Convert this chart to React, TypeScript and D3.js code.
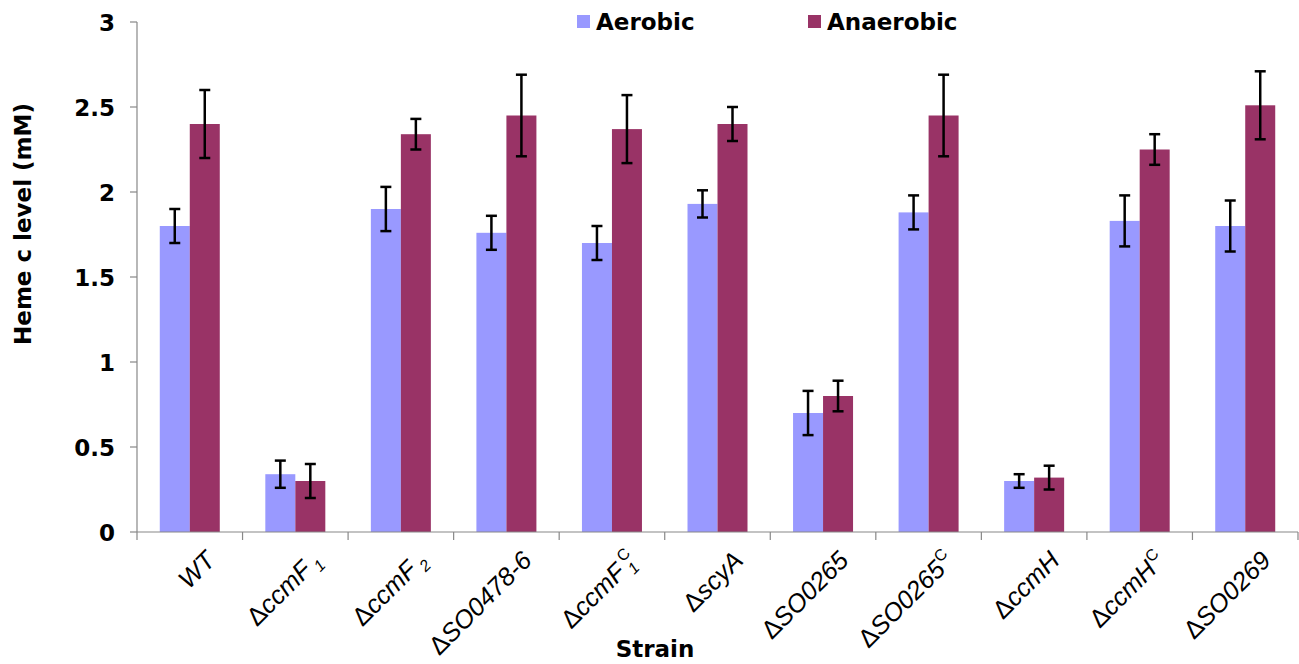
import * as d3 from 'd3';

// strain labels: base text, optional subscript / superscript
const STRAINS = [
  { id: 'WT', base: 'WT', delta: false, sub: '', sup: '' },
  { id: 'ccmF1', base: 'ccmF', delta: true, sub: '1', sup: '' },
  { id: 'ccmF2', base: 'ccmF', delta: true, sub: '2', sup: '' },
  { id: 'SO0478-6', base: 'SO0478-6', delta: true, sub: '', sup: '' },
  { id: 'ccmF1C', base: 'ccmF', delta: true, sub: '1', sup: 'C' },
  { id: 'scyA', base: 'scyA', delta: true, sub: '', sup: '' },
  { id: 'SO0265', base: 'SO0265', delta: true, sub: '', sup: '' },
  { id: 'SO0265C', base: 'SO0265', delta: true, sub: '', sup: 'C' },
  { id: 'ccmH', base: 'ccmH', delta: true, sub: '', sup: '' },
  { id: 'ccmHC', base: 'ccmH', delta: true, sub: '', sup: 'C' },
  { id: 'SO0269', base: 'SO0269', delta: true, sub: '', sup: '' },
];

const SERIES = ['Aerobic', 'Anaerobic'];
const COLORS = ['#9999ff', '#993366'];

const aerobic = [1.8, 0.34, 1.9, 1.76, 1.7, 1.93, 0.7, 1.88, 0.3, 1.83, 1.8];
const aerobicErr = [0.1, 0.08, 0.13, 0.1, 0.1, 0.08, 0.13, 0.1, 0.04, 0.15, 0.15];
const anaerobic = [2.4, 0.3, 2.34, 2.45, 2.37, 2.4, 0.8, 2.45, 0.32, 2.25, 2.51];
const anaerobicErr = [0.2, 0.1, 0.09, 0.24, 0.2, 0.1, 0.09, 0.24, 0.07, 0.09, 0.2];

const Y_TICKS = [0, 0.5, 1, 1.5, 2, 2.5, 3];

const W = 1299;
const H = 664;
const left = 137;
const right = 1298;
const top = 22;
const bottom = 532;

const BOLD = '"DejaVu Sans", Verdana, sans-serif';
const ARIAL = '"Liberation Sans", Arial, sans-serif';

export default function App() {
  const x = d3.scaleBand<string>().domain(STRAINS.map((s) => s.id)).range([left, right]);
  const barW = 30;
  const inner = d3
    .scaleBand<string>()
    .domain(SERIES)
    .range([x.bandwidth() / 2 - barW, x.bandwidth() / 2 + barW]);
  const y = d3.scaleLinear().domain([0, 3]).range([bottom, top]);

  const values = [aerobic, anaerobic];
  const errs = [aerobicErr, anaerobicErr];
  const bounds = [left, ...STRAINS.map((s) => (x(s.id) ?? 0) + x.bandwidth())];

  return (
    <svg width={W} height={H} style={{ position: 'absolute', left: 0, top: 0, background: '#fff' }}>
      {/* bars */}
      {STRAINS.map((s, i) => (
        <g key={s.id} transform={`translate(${x(s.id)},0)`}>
          {SERIES.map((ser, k) => (
            <rect
              key={ser}
              x={inner(ser)}
              y={y(values[k][i])}
              width={inner.bandwidth()}
              height={y(0) - y(values[k][i])}
              fill={COLORS[k]}
            />
          ))}
        </g>
      ))}

      {/* error bars */}
      {STRAINS.map((s, i) =>
        SERIES.map((ser, k) => {
          const cx = (x(s.id) ?? 0) + (inner(ser) ?? 0) + inner.bandwidth() / 2;
          const hi = y(values[k][i] + errs[k][i]);
          const lo = y(values[k][i] - errs[k][i]);
          return (
            <g key={s.id + ser} stroke="#000" strokeWidth={2.5}>
              <line x1={cx} x2={cx} y1={hi} y2={lo} />
              <line x1={cx - 5.5} x2={cx + 5.5} y1={hi} y2={hi} />
              <line x1={cx - 5.5} x2={cx + 5.5} y1={lo} y2={lo} />
            </g>
          );
        })
      )}

      {/* axes */}
      <g stroke="#888" strokeWidth={1.2}>
        <line x1={left} x2={left} y1={top} y2={bottom} />
        {Y_TICKS.map((t) => (
          <line key={t} x1={left - 7} x2={left} y1={y(t)} y2={y(t)} />
        ))}
        <line x1={left} x2={right} y1={bottom} y2={bottom} />
        {bounds.map((b, i) => (
          <line key={i} x1={b} x2={b} y1={bottom} y2={bottom + 8} />
        ))}
      </g>
      {Y_TICKS.map((t) => (
        <text
          key={t}
          x={115}
          y={y(t)}
          dy="0.37em"
          textAnchor="end"
          fontFamily={BOLD}
          fontWeight="bold"
          fontSize={23}
        >
          {t}
        </text>
      ))}
      <text
        transform={`translate(31,224) rotate(-90)`}
        textAnchor="middle"
        fontFamily={BOLD}
        fontWeight="bold"
        fontSize={23}
      >
        Heme c level (mM)
      </text>

      {/* x labels */}
      {STRAINS.map((s) => {
        const cx = (x(s.id) ?? 0) + x.bandwidth() / 2;
        return (
          <text
            key={s.id}
            transform={`translate(${cx + 14},${bottom + 17}) rotate(-45)`}
            textAnchor="end"
            dy="0.72em"
            fontFamily={ARIAL}
            fontSize={25.5}
          >
            {s.delta && <tspan>Δ</tspan>}
            <tspan fontStyle="italic">{s.base}</tspan>
            {s.sub && (
              <tspan fontStyle="italic" fontSize={16} dx={4} dy={6}>
                {s.sub}
              </tspan>
            )}
            {s.sup && (
              <tspan fontSize={16} dx={s.sub ? -8 : 1} dy={s.sub ? -17 : -10}>
                {s.sup}
              </tspan>
            )}
          </text>
        );
      })}
      <text x={655} y={657} textAnchor="middle" fontFamily={BOLD} fontWeight="bold" fontSize={23}>
        Strain
      </text>

      {/* legend */}
      {SERIES.map((ser, k) => (
        <g key={ser} transform={`translate(${k === 0 ? 577 : 808},15)`}>
          <rect width={13} height={13} fill={COLORS[k]} />
          <text x={19} y={15} fontFamily={BOLD} fontWeight="bold" fontSize={23}>
            {ser}
          </text>
        </g>
      ))}
    </svg>
  );
}
